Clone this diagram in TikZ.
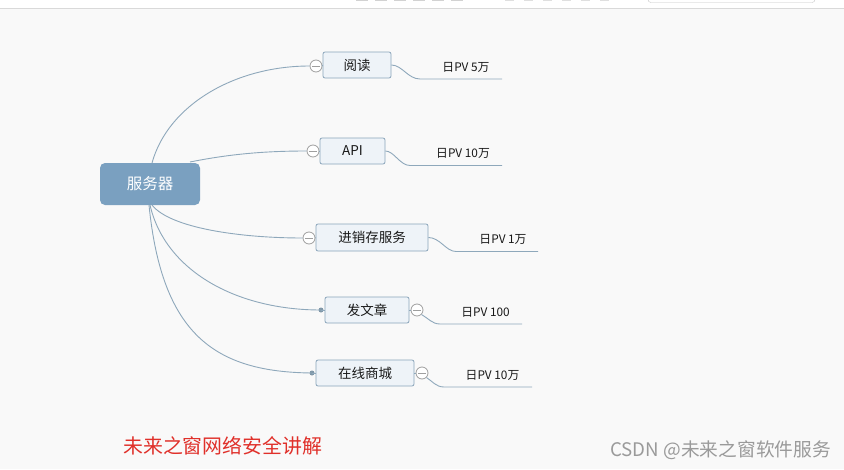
\documentclass[tikz,border=0pt]{standalone}
\usepackage{fontspec}
\setmainfont{Noto Sans CJK SC}
\newfontfamily\cjk{Noto Sans CJK SC}
\definecolor{bg}{HTML}{F9F9F9}
\definecolor{lineblue}{HTML}{8EA8BB}
\definecolor{boxfill}{HTML}{EEF3F8}
\definecolor{boxdraw}{HTML}{8AA5BA}
\definecolor{rootfill}{HTML}{7AA0C0}
\definecolor{redtxt}{HTML}{E0302A}
\definecolor{graytxt}{HTML}{9A9A9A}
\tikzset{
  conn/.style={draw=lineblue, line width=0.9pt},
  topic/.style={draw=boxdraw, fill=boxfill, rounded corners=2pt, line width=0.8pt, font=\fontsize{13.5}{15}\selectfont, text=black!90, inner sep=0pt},
  collapse/.style={circle, draw=gray!75, fill=white, line width=0.8pt, minimum size=12pt, inner sep=0pt,
    path picture={\draw[gray!75, line width=0.8pt] ([xshift=-4pt]path picture bounding box.center) -- ([xshift=4pt]path picture bounding box.center);}},
  dotk/.style={circle, fill=lineblue!90!black, minimum size=5pt, inner sep=0pt},
  pv/.style={font=\fontsize{11.8}{13}\selectfont, text=black!90, inner sep=0pt, anchor=base},
}
\begin{document}
\begin{tikzpicture}[x=1pt,y=-1pt]
\useasboundingbox (0,0) rectangle (844,469);
\fill[bg] (0,9) rectangle (844,469);
\fill[white] (0,0) rectangle (844,8);
\draw[gray!30, line width=1pt] (0,8.5) -- (844,8.5);
\begin{scope}
\clip (0,0) rectangle (844,8);
\draw[gray!45, rounded corners=3pt] (648,-10) rectangle (815,2.5);
\foreach \x in {356,375,394,413,432,451}{\fill[gray!35] (\x,-2) rectangle ++(12,3);}
\foreach \x in {505,524,543,562,581,600}{\fill[gray!25] (\x,-2) rectangle ++(9,2.5);}
\end{scope}

% root
\node[fill=rootfill, rounded corners=5pt, minimum width=100pt, minimum height=42pt, inner sep=0pt,
  text=white, font=\fontsize{15.5}{17}\selectfont] (root) at (150,184) {服务器};

% topics
\node[topic, minimum width=68pt, minimum height=26pt] (c1) at (357,65) {阅读};
\node[topic, minimum width=65pt, minimum height=26pt] (c2) at (352.5,151) {API};
\node[topic, minimum width=112pt, minimum height=27pt] (c3) at (372,237.5) {进销存服务};
\node[topic, minimum width=84pt, minimum height=26pt] (c4) at (367,310) {发文章};
\node[topic, minimum width=98pt, minimum height=26pt] (c5) at (365,373) {在线商城};

% collapse marks / dots
\node[collapse] (k1) at (316,66) {};
\node[collapse] (k2) at (313,151) {};
\node[collapse] (k3) at (309,238) {};
\node[dotk] (d4) at (321,310) {};
\node[collapse] (k4) at (417,310) {};
\node[dotk] (d5) at (312,373) {};
\node[collapse] (k5) at (422,373) {};

% root connection points
\coordinate (r1) at (152,163);
\coordinate (r2) at (190,162);
\coordinate (r3) at (152,205);
\coordinate (r4) at (150,205);
\coordinate (r5) at (149,205);

\draw[conn] (r1) .. controls (168,105) and (235,66) .. (k1.west);
\draw[conn] (r2) .. controls (230,154) and (265,151) .. (k2.west);
\draw[conn] (r3) .. controls (170,228) and (240,238) .. (k3.west);
\draw[conn] (r4) .. controls (165,270) and (235,310) .. (d4.center);
\draw[conn] (r5) .. controls (162,335) and (215,372) .. (d5.center);
\draw[conn] (k1.east) -- (c1.west);
\draw[conn] (k2.east) -- (c2.west);
\draw[conn] (k3.east) -- (c3.west);
\draw[conn] (d4.center) -- (c4.west);
\draw[conn] (d5.center) -- (c5.west);
\draw[conn] (c4.east) -- (k4.west);
\draw[conn] (c5.east) -- (k5.west);

% PV labels
\node[pv] (p1) at (466,71) {日PV 5万};
\node[pv] (p2) at (463,157) {日PV 10万};
\node[pv] (p3) at (503,243) {日PV 1万};
\node[pv] (p4) at (485.5,316) {日PV 100};
\node[pv] (p5) at (492.5,379) {日PV 10万};

\coordinate (u1a) at (420,79); \coordinate (u1b) at (502,79);
\coordinate (u2a) at (410,165.5); \coordinate (u2b) at (502,165.5);
\coordinate (u3a) at (456,251.5); \coordinate (u3b) at (538,251.5);
\coordinate (u4a) at (440,324); \coordinate (u4b) at (522,324);
\coordinate (u5a) at (444,387); \coordinate (u5b) at (532,387);

\draw[conn] (c1.east) .. controls (402,65) and (408,79) .. (u1a) -- (u1b);
\draw[conn] (c2.east) .. controls (394,151) and (400,165.5) .. (u2a) -- (u2b);
\draw[conn] (c3.east) .. controls (440,237.5) and (446,251.5) .. (u3a) -- (u3b);
\draw[conn] (k4.south east) .. controls (428,318) and (432,324) .. (u4a) -- (u4b);
\draw[conn] (k5.south east) .. controls (432,381) and (436,387) .. (u5a) -- (u5b);

% footer texts
\node[text=redtxt, font=\fontsize{19.9}{22}\selectfont, anchor=west, inner sep=0pt] (foot1) at (123,446) {未来之窗网络安全讲解};
\node[text=graytxt, font=\fontsize{18.7}{21}\selectfont, anchor=east, inner sep=0pt] (foot2) at (831,450) {CSDN @未来之窗软件服务};
\end{tikzpicture}
\end{document}
